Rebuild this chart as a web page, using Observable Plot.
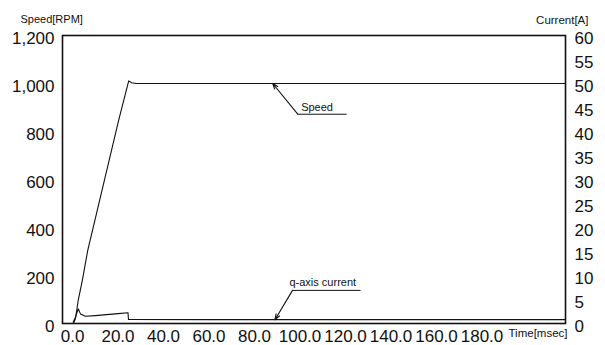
<!DOCTYPE html>
<html>
<head>
<meta charset="utf-8">
<script src="https://cdn.jsdelivr.net/npm/d3@7"></script>
<script src="https://cdn.jsdelivr.net/npm/@observablehq/plot@0.6"></script>
<style>
  html, body { margin: 0; padding: 0; background: #fff; }
  #chart svg { display: block; }
</style>
</head>
<body>
<div id="chart"></div>
<script>
// Axis ticks
const timeTicks = [0, 20, 40, 60, 80, 100, 120, 140, 160, 180];
const speedTicks = [0, 200, 400, 600, 800, 1000, 1200];
const currentTicks = [0, 5, 10, 15, 20, 25, 30, 35, 40, 45, 50, 55, 60];

// Motor speed response (msec, RPM)
const speedTime = [0.4, 1.3, 2.5, 4.3, 6.7, 20.3, 24.7, 26, 28, 216.5];
const speedRpm  = [0, 21, 96, 179, 305, 847, 1011, 1003, 1000, 1000];

// q-axis current (msec, A)
const currentTime = [0.3, 1.3, 2.5, 3.5, 5.7, 10, 15, 20, 24.4, 24.6, 60, 216.5];
const currentAmp  = [0.3, 1.3, 3.06, 2.0, 1.5, 1.65, 1.85, 2.05, 2.23, 0.83, 0.8, 0.8];

// Callouts: arrow tip on the curve, elbow of the leader, end of the underline, label anchor
const speedNote = {label: "Speed", tipT: 88, tipV: 1000, elbowT: 99, elbowV: 872, endT: 120.5, textT: 100.5, textV: 900};
const currentNote = {label: "q-axis current", tipT: 89, tipA: 0.8, elbowT: 96.7, elbowA: 6.9, endT: 126.6, textT: 110, textA: 8.5};

// One y scale in RPM; the right axis reads it as amperes (60 A ↔ 1200 RPM)
const ampToRpm = 1200 / 60;

const speed = speedTime.map((t, i) => ({t, v: speedRpm[i]}));
const current = currentTime.map((t, i) => ({t, v: currentAmp[i] * ampToRpm}));

const leaders = [
  {x1: speedNote.elbowT, y1: speedNote.elbowV, x2: speedNote.tipT, y2: speedNote.tipV},
  {x1: currentNote.elbowT, y1: currentNote.elbowA * ampToRpm, x2: currentNote.tipT, y2: currentNote.tipA * ampToRpm}
];
const underlines = [
  {x1: speedNote.elbowT, x2: speedNote.endT, y: speedNote.elbowV},
  {x1: currentNote.elbowT, x2: currentNote.endT, y: currentNote.elbowA * ampToRpm}
];

const font = "'Liberation Sans', Arial, Helvetica, sans-serif";
const ink = "#111";

const chart = Plot.plot({
  width: 605,
  height: 345,
  marginLeft: 62,
  marginRight: 40,
  marginTop: 35,
  marginBottom: 22,
  style: {fontFamily: font, fontSize: "17px", color: ink, background: "#fff"},
  x: {domain: [-4.4, 216.7]},
  y: {domain: [0, 1200]},
  marks: [
    Plot.axisY({anchor: "left", ticks: speedTicks, tickFormat: d3.format(","), tickSize: 0, tickPadding: 8, dy: 3, label: null, fontSize: 17}),
    Plot.axisY({anchor: "right", ticks: currentTicks.map(a => a * ampToRpm), tickFormat: d => String(d / ampToRpm), tickSize: 0, tickPadding: 9, dy: 3, label: null, fontSize: 17}),
    Plot.axisX({ticks: timeTicks, tickFormat: d => d.toFixed(1), tickSize: 0, tickPadding: 6, label: null, fontSize: 17}),
    Plot.frame({stroke: ink, strokeWidth: 1.6}),
    Plot.line(speed, {x: "t", y: "v", stroke: ink, strokeWidth: 1.1}),
    Plot.line(current, {x: "t", y: "v", stroke: ink, strokeWidth: 1.1}),
    Plot.arrow(leaders, {x1: "x1", y1: "y1", x2: "x2", y2: "y2", stroke: ink, strokeWidth: 1.1, headLength: 8, headAngle: 40}),
    Plot.link(underlines, {x1: "x1", x2: "x2", y1: "y", y2: "y", stroke: ink, strokeWidth: 1}),
    Plot.text([speedNote], {x: "textT", y: "textV", text: "label", textAnchor: "start", fontSize: 11, fill: ink}),
    Plot.text([currentNote], {x: "textT", y: d => d.textA * ampToRpm, text: "label", fontSize: 11, fill: ink}),
    Plot.text(["Speed[RPM]"], {frameAnchor: "top-left", dx: -42, dy: -20, textAnchor: "start", fontSize: 11, fill: ink}),
    Plot.text(["Current[A]"], {frameAnchor: "top-right", dx: 23, dy: -20, textAnchor: "end", fontSize: 11.5, fill: ink}),
    Plot.text(["Time[msec]"], {frameAnchor: "bottom-right", dx: -57, dy: 13, textAnchor: "start", fontSize: 11.5, fill: ink, style: "letter-spacing: 0.4px"})
  ]
});

document.getElementById("chart").appendChild(chart);
</script>
</body>
</html>
